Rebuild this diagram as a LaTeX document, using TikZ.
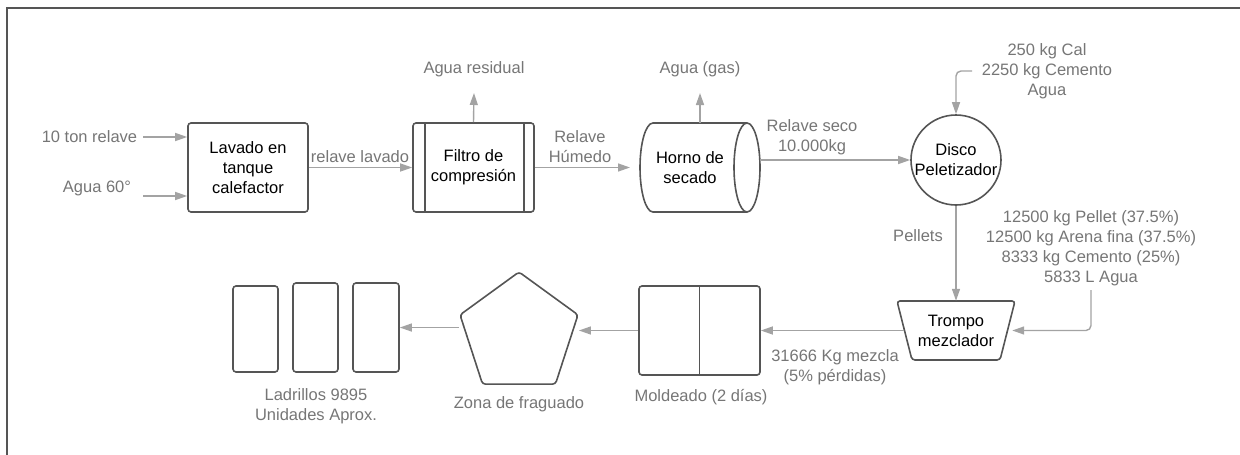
\documentclass[tikz,border=0pt]{standalone}
\usepackage{fontspec}
\setmainfont{Liberation Sans}
\usetikzlibrary{arrows.meta,shapes.geometric}
\definecolor{boxc}{HTML}{555555}
\definecolor{arrc}{HTML}{A3A3A3}
\definecolor{lblc}{HTML}{767676}
\begin{document}
\begin{tikzpicture}[x=1pt,y=-1pt, font=\fontsize{16.5}{20}\selectfont,
 box/.style={draw=boxc, line width=1.6pt, rounded corners=3pt, align=center, inner sep=0pt},
 shp/.style={draw=boxc, line width=1.6pt},
 arr/.style={draw=arrc, line width=1.4pt, -{Triangle[length=12pt,width=8pt]}},
 lbl/.style={text=lblc, align=center, inner sep=0pt},
 txt/.style={align=center, inner sep=0pt}]
\useasboundingbox (0,0) rectangle (1240,455);
\draw[boxc, line width=2pt] (6.5,455) -- (6.5,7.5) -- (1240,7.5);

% process nodes
\node[box, minimum width=120pt, minimum height=89pt] (lav) at (248,167.5) {Lavado en\\tanque\\calefactor};
\node[box, minimum width=121pt, minimum height=89pt] (fil) at (473.5,167.5) {Filtro de\\compresión};
\draw[shp] ([xshift=13pt]fil.north west) -- ([xshift=13pt]fil.south west);
\draw[shp] ([xshift=-11pt]fil.north east) -- ([xshift=-11pt]fil.south east);

\node[inner sep=0pt, outer sep=0pt, minimum width=120pt, minimum height=89pt] (hor) at (700,167.5) {};
\draw[shp] (747,123) -- (653,123) arc[start angle=90, end angle=270, x radius=13pt, y radius=44.5pt] -- (747,212);
\draw[shp] (747,167.5) ellipse [x radius=13pt, y radius=44.5pt];
\node[txt] (horl) at (690,167.5) {Horno de\\secado};

\node[shp, circle, minimum size=90pt, inner sep=0pt, align=center] (dis) at (956,160) {Disco\\Peletizador};

\node[txt, minimum width=118pt, minimum height=59pt] (tro) at (956,330.5) {Trompo\\mezclador};
\draw[shp, rounded corners=3pt] (897,301) -- (1015,301) -- (1000,360) -- (912,360) -- cycle;

\node[box, minimum width=121pt, minimum height=89pt] (mol) at (699.5,330.5) {};
\draw[shp] (mol.north) -- (mol.south);

\node[shp, regular polygon, regular polygon sides=5, minimum size=124pt, inner sep=0pt, rounded corners=3pt] (fra) at (519,334) {};

\node[box, minimum width=45pt, minimum height=86pt] (b1) at (255.5,329) {};
\node[box, minimum width=45pt, minimum height=89pt] (b2) at (315.5,327.5) {};
\node[box, minimum width=46pt, minimum height=89pt] (b3) at (376,327.5) {};

% coordinates of free ends
\coordinate (i1) at (143,137);
\coordinate (i2) at (143,196);
\coordinate (fup) at (474,93);
\coordinate (hup) at (700,93);
\coordinate (ti) at (972,71);
\coordinate (ri) at (1091,290);
\coordinate (fl) at ([yshift=-13pt]fra.corner 2);

% connectors
\draw[arr] (i1) -- (i1 -| lav.west);
\draw[arr] (i2) -- (i2 -| lav.west);
\draw[arr] (lav.east) -- (fil.west);
\draw[arr] (fil.north) -- (fup);
\draw[arr] (fil.east) -- ([xshift=-10pt]hor.west);
\draw[arr] (hor.north) -- (hup);
\draw[arr] (dis.west -| hor.east) -- (dis.west);
\draw[arr, rounded corners=5pt] (ti) -| (dis.north);
\draw[arr] (dis.south) -- (tro.north);
\draw[arr, rounded corners=5pt] (ri) |- ([xshift=-3pt]tro.east);
\draw[arr] ([xshift=7pt]tro.west) -- (mol.east);
\draw[arr] (mol.west) -- (mol.west -| fra.corner 5);
\draw[arr] (fl) -- (fl -| b3.east);

% labels
\node[lbl] at (89.5,137) {10 ton relave};
\node[lbl] at (97,188) {Agua 60°};
\node[lbl] at (360,157) {relave lavado};
\node[lbl] at (474,69) {Agua residual};
\node[lbl] at (580,146.5) {Relave\\Húmedo};
\node[lbl] at (700,69) {Agua (gas)};
\node[lbl] at (812,137) {Relave seco\\10.000kg};
\node[lbl] at (1047,71) {250 kg Cal\\2250 kg Cemento\\Agua};
\node[lbl] at (918,236) {Pellets};
\node[lbl] at (1091,248) {12500 kg Pellet (37.5\%)\\12500 kg Arena fina (37.5\%)\\8333 kg Cemento (25\%)\\5833 L Agua};
\node[lbl] at (835,367) {31666 Kg mezcla\\(5\% pérdidas)};
\node[lbl] at (701,397) {Moldeado (2 días)};
\node[lbl] at (519,404) {Zona de fraguado};
\node[lbl] at (316,406.5) {Ladrillos 9895\\Unidades Aprox.};
\end{tikzpicture}
\end{document}
